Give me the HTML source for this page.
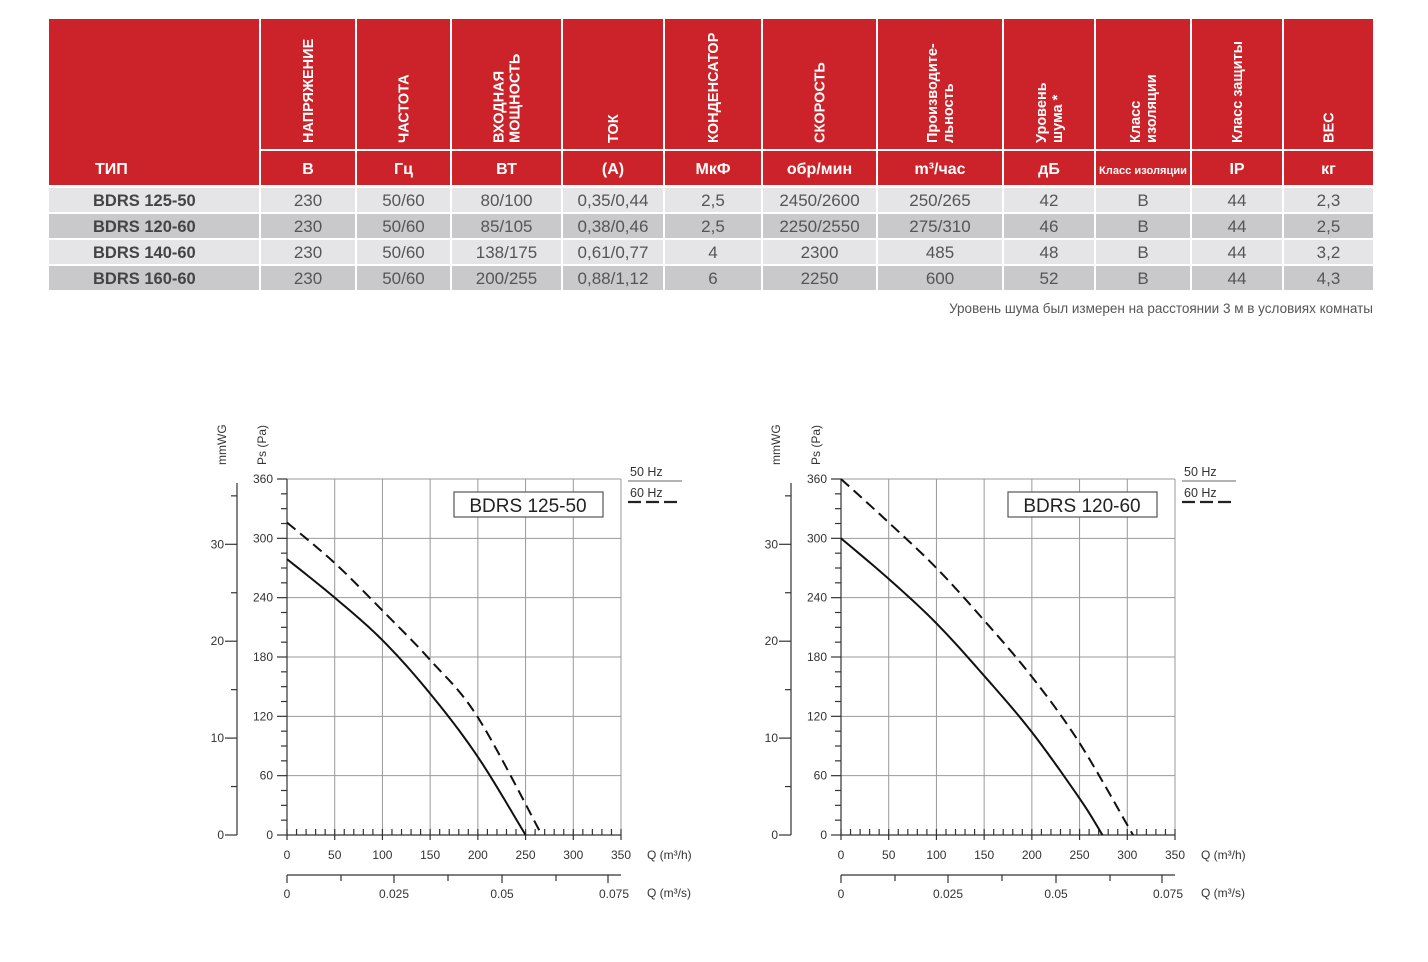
<!DOCTYPE html>
<html><head><meta charset="utf-8"><style>
html,body{margin:0;padding:0;background:#fff;}
svg{display:block;font-family:"Liberation Sans",Arial,sans-serif;}
</style></head><body>
<svg id="s" width="1428" height="962" viewBox="0 0 1428 962" xmlns="http://www.w3.org/2000/svg"></svg>
<script>
const S=document.getElementById('s');let h='';
const R='#cc2229';
// table
const cols=[49,261,357,452,563,665,763,878,1004,1096,1192,1284,1375];
h+=`<rect x="${cols[0]}" y="19" width="${cols[1]-cols[0]-2}" height="166" fill="${R}"/>`;
h+=`<text x="95" y="174" fill="#fff" font-size="16" font-weight="bold">ТИП</text>`;
const heads=[["НАПРЯЖЕНИЕ"],["ЧАСТОТА"],["ВХОДНАЯ","МОЩНОСТЬ"],["ТОК"],["КОНДЕНСАТОР"],["СКОРОСТЬ"],["Производите-","льность"],["Уровень","шума *"],["Класс","изоляции"],["Класс защиты"],["ВЕС"]];
const subs=["В","Гц","ВТ","(A)","МкФ","обр/мин","m³/час","дБ","Класс изоляции","IP","кг"];
for(let i=1;i<12;i++){const x0=cols[i],x1=cols[i+1]-2,cx=(x0+x1)/2;
h+=`<rect x="${x0}" y="19" width="${x1-x0}" height="130" fill="${R}"/>`;
h+=`<rect x="${x0}" y="151" width="${x1-x0}" height="34" fill="${R}"/>`;
const L=heads[i-1];L.forEach((t,j)=>{const dx=L.length==1?5:(j==0?-3:13);
h+=`<text transform="translate(${cx+dx},143) rotate(-90)" fill="#fff" font-size="14.5" font-weight="bold">${t}</text>`;});
const sm=i==9;h+=`<text x="${cx}" y="174" fill="#fff" font-size="${sm?11:16}" font-weight="bold" text-anchor="middle" ${sm?'textLength="88" lengthAdjust="spacingAndGlyphs"':''}>${subs[i-1]}</text>`;}
const rows=[["BDRS 125-50","230","50/60","80/100","0,35/0,44","2,5","2450/2600","250/265","42","B","44","2,3"],
["BDRS 120-60","230","50/60","85/105","0,38/0,46","2,5","2250/2550","275/310","46","B","44","2,5"],
["BDRS 140-60","230","50/60","138/175","0,61/0,77","4","2300","485","48","B","44","3,2"],
["BDRS 160-60","230","50/60","200/255","0,88/1,12","6","2250","600","52","B","44","4,3"]];
const ry=[188,214,240,266];
rows.forEach((r,k)=>{const bg=k%2?'#c9c9cb':'#e5e5e7';
for(let i=0;i<12;i++){const x0=cols[i],x1=cols[i+1]-2;h+=`<rect x="${x0}" y="${ry[k]}" width="${x1-x0}" height="24" fill="${bg}"/>`;
if(i==0)h+=`<text x="93" y="${ry[k]+18}" fill="#444" font-size="16.5" font-weight="bold">${r[0]}</text>`;
else h+=`<text x="${(x0+x1)/2}" y="${ry[k]+18}" fill="#555" font-size="17" text-anchor="middle">${r[i]}</text>`;}});
h+=`<text x="1373" y="313" fill="#555" font-size="13.5" text-anchor="end">Уровень шума был измерен на расстоянии 3 м в условиях комнаты</text>`;
// charts
function chart(o,title,sol,das){
 const X=q=>o+287+q*334/350, Y=p=>835-p*356/360;
 let g='';const st='stroke="#999" stroke-width="1"';
 for(let q=50;q<=350;q+=50)g+=`<line x1="${X(q)}" y1="479" x2="${X(q)}" y2="835" ${st}/>`;
 for(let p=60;p<=360;p+=60)g+=`<line x1="${X(0)}" y1="${Y(p)}" x2="${X(350)}" y2="${Y(p)}" ${st}/>`;
 const k='stroke="#333" stroke-width="1.2"';
 g+=`<line x1="${X(0)}" y1="479" x2="${X(0)}" y2="835" ${k}/><line x1="${X(0)}" y1="835" x2="${X(350)}" y2="835" ${k}/>`;
 for(let p=0;p<=360;p+=15){const m=p%60==0;g+=`<line x1="${X(0)-(m?10:6)}" y1="${Y(p)}" x2="${X(0)}" y2="${Y(p)}" ${k}/>`;
  if(m)g+=`<text x="${X(0)-14}" y="${Y(p)+4}" font-size="12" fill="#333" text-anchor="end">${p}</text>`;}
 for(let q=0;q<=350;q+=10){g+=`<line x1="${X(q)}" y1="${q%50==0?840:835}" x2="${X(q)}" y2="829" ${k}/>`;
  if(q%50==0)g+=`<text x="${X(q)}" y="859" font-size="12" fill="#333" text-anchor="middle">${q}</text>`;}
 g+=`<text x="${o+647}" y="859" font-size="12" fill="#333">Q (m³/h)</text>`;
 // mmWG
 const mx=o+237,MY=m=>835-m*9.69;
 g+=`<line x1="${mx}" y1="483" x2="${mx}" y2="835" ${k}/>`;
 for(let m=0;m<=35;m+=5){const M=m%10==0;g+=`<line x1="${mx-(M?12:6)}" y1="${MY(m)}" x2="${mx}" y2="${MY(m)}" ${k}/>`;
  if(M)g+=`<text x="${mx-13}" y="${MY(m)+4}" font-size="12" fill="#333" text-anchor="end">${m}</text>`;}
 // m3/s
 g+=`<line x1="${X(0)}" y1="875" x2="${X(350)}" y2="875" ${k}/>`;
 const tx=[287,341,394,448,502,556,608],tl=["0","","0.025","","0.05","","0.075"];
 tx.forEach((x,i)=>{g+=`<line x1="${o+x}" y1="875" x2="${o+x}" y2="${tl[i]?883:881}" ${k}/>`;
  if(tl[i])g+=`<text x="${o+x+(i==6?6:0)}" y="898" font-size="12" fill="#333" text-anchor="middle">${tl[i]}</text>`;});
 g+=`<text x="${o+647}" y="897" font-size="12" fill="#333">Q (m³/s)</text>`;
 g+=`<text transform="translate(${o+226},465) rotate(-90)" font-size="12" fill="#333">mmWG</text>`;
 g+=`<text transform="translate(${o+266},465) rotate(-90)" font-size="12" fill="#333">Ps (Pa)</text>`;
 // legend
 g+=`<text x="${o+630}" y="476" font-size="12.5" fill="#333">50 Hz</text><line x1="${o+628}" y1="481" x2="${o+682}" y2="481" stroke="#666" stroke-width="1"/>`;
 g+=`<text x="${o+630}" y="497" font-size="12.5" fill="#333">60 Hz</text><line x1="${o+628}" y1="502" x2="${o+682}" y2="502" stroke="#222" stroke-width="2.2" stroke-dasharray="13,5"/>`;
 g+=`<rect x="${o+454}" y="492" width="149" height="25" fill="#fff" stroke="#555" stroke-width="1.2"/><text x="${o+528}" y="512" font-size="19" fill="#222" text-anchor="middle">${title}</text>`;
 const path=pts=>{let d='M'+X(pts[0][0])+','+Y(pts[0][1]);for(let i=1;i<pts.length;i++){const a=pts[i-1],b=pts[i];d+=' L'+X(b[0])+','+Y(b[1]);}return d;};
 g+=`<path d="${path(sol)}" fill="none" stroke="#111" stroke-width="2" stroke-linejoin="round"/>`;
 g+=`<path d="${path(das)}" fill="none" stroke="#111" stroke-width="2" stroke-dasharray="11,6" stroke-linejoin="round"/>`;
 return g;}
function smooth(p){const o=[];for(let i=0;i<p.length-1;i++){for(let t=0;t<1;t+=0.1){const a=p[Math.max(i-1,0)],b=p[i],c=p[i+1],d=p[Math.min(i+2,p.length-1)];
const f=(A,B,C,D)=>0.5*((2*B)+(-A+C)*t+(2*A-5*B+4*C-D)*t*t+(-A+3*B-3*C+D)*t*t*t);o.push([f(a[0],b[0],c[0],d[0]),f(a[1],b[1],c[1],d[1])]);}}o.push(p[p.length-1]);return o;}
h+=chart(0,"BDRS 125-50",smooth([[0,279],[50,240],[100,197],[150,143],[200,79],[250,0]]),smooth([[0,316],[50,275],[100,227],[150,177],[200,119],[267,0]]));
h+=chart(554,"BDRS 120-60",smooth([[0,300],[50,259],[100,214],[150,161],[200,104],[250,37],[274,0]]),smooth([[0,360],[50,316],[100,270],[150,217],[200,160],[250,93],[306,0]]));
S.innerHTML=h;
</script>
</body></html>
